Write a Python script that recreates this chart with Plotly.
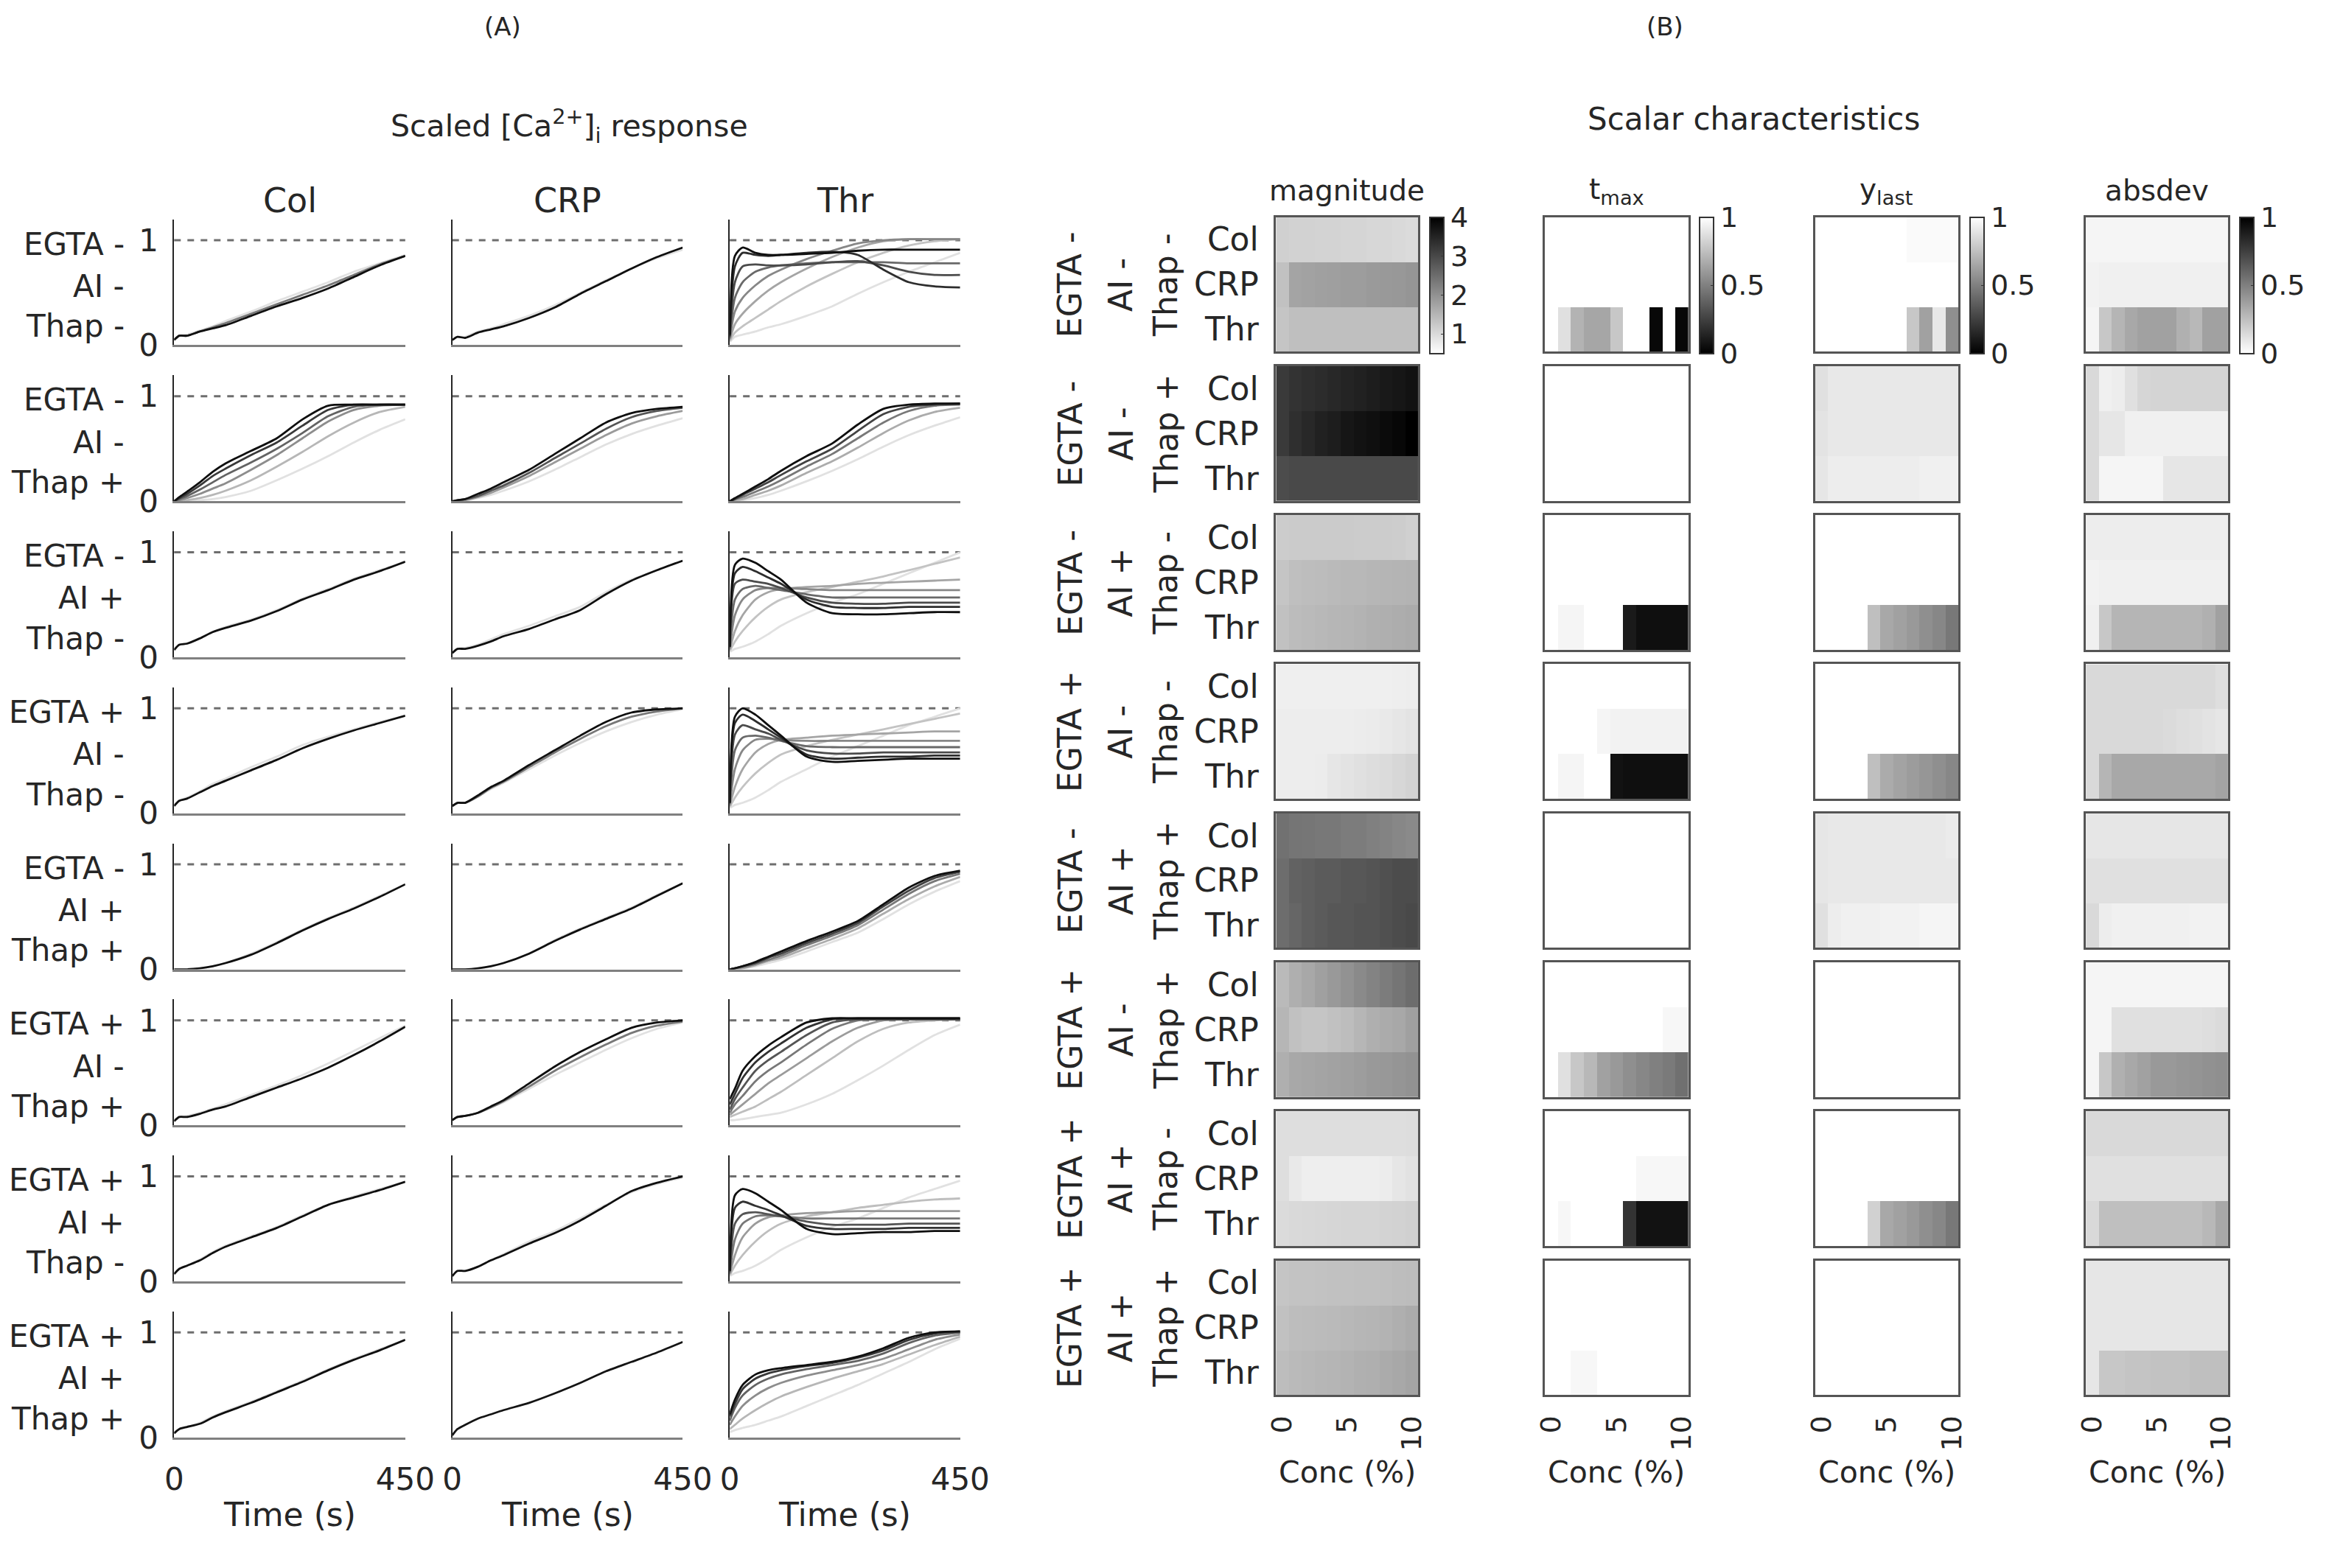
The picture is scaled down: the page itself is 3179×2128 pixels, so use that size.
import plotly.graph_objects as go

# page is 3179x2128; the html body keeps an 8px margin, so the figure is 16px smaller
W, H = 3179, 2128
PAD = 8
FW, FH = W - 2 * PAD, H - 2 * PAD
FONT = "DejaVu Sans"
INK = "#262626"

# time grid (s) of the scaled [Ca2+]i traces
T = [0, 10, 25, 50, 75, 100, 150, 200, 250, 300, 350, 400, 450]
agonists = ["Col", "CRP", "Thr"]
row_labels = [("EGTA -", "AI -", "Thap -"), ("EGTA -", "AI -", "Thap +"),
              ("EGTA -", "AI +", "Thap -"), ("EGTA +", "AI -", "Thap -"),
              ("EGTA -", "AI +", "Thap +"), ("EGTA +", "AI -", "Thap +"),
              ("EGTA +", "AI +", "Thap -"), ("EGTA +", "AI +", "Thap +")]
conc = [0, 1, 2, 3, 4, 5, 6, 7, 8, 9, 10]
metrics = ["magnitude", "t<sub>max</sub>", "y<sub>last</sub>", "absdev"]

# curves per panel, listed from lowest concentration (light) to highest (dark)
col_1 = [[0.05, 0.09, 0.10, 0.14, 0.18, 0.23, 0.32, 0.42, 0.51, 0.60, 0.70, 0.78, 0.86],
         [0.05, 0.09, 0.09, 0.13, 0.17, 0.21, 0.30, 0.39, 0.48, 0.57, 0.67, 0.77, 0.85],
         [0.05, 0.09, 0.09, 0.13, 0.16, 0.19, 0.28, 0.37, 0.45, 0.54, 0.65, 0.76, 0.85]]
crp_1 = [[0.05, 0.08, 0.08, 0.13, 0.16, 0.20, 0.28, 0.38, 0.50, 0.62, 0.73, 0.83, 0.91],
         [0.05, 0.08, 0.07, 0.12, 0.15, 0.18, 0.26, 0.36, 0.49, 0.61, 0.73, 0.84, 0.93]]
thr_1 = [[0.03, 0.08, 0.10, 0.13, 0.17, 0.20, 0.28, 0.37, 0.49, 0.60, 0.70, 0.79, 0.88],
         [0.04, 0.12, 0.18, 0.26, 0.34, 0.42, 0.56, 0.68, 0.79, 0.88, 0.95, 0.99, 1.01],
         [0.05, 0.20, 0.30, 0.42, 0.52, 0.60, 0.73, 0.84, 0.93, 0.99, 1.01, 1.01, 1.01],
         [0.06, 0.32, 0.45, 0.57, 0.66, 0.72, 0.82, 0.90, 0.97, 1.00, 1.01, 1.01, 1.01],
         [0.07, 0.45, 0.60, 0.70, 0.74, 0.76, 0.78, 0.79, 0.79, 0.79, 0.78, 0.78, 0.78],
         [0.08, 0.60, 0.75, 0.77, 0.76, 0.76, 0.77, 0.79, 0.80, 0.76, 0.70, 0.67, 0.67],
         [0.09, 0.75, 0.88, 0.86, 0.85, 0.86, 0.88, 0.89, 0.86, 0.72, 0.60, 0.56, 0.55],
         [0.10, 0.85, 0.93, 0.88, 0.86, 0.86, 0.87, 0.88, 0.90, 0.91, 0.91, 0.91, 0.91]]

col_2 = [[0.00, 0.00, 0.00, 0.01, 0.02, 0.04, 0.10, 0.20, 0.31, 0.43, 0.56, 0.68, 0.78],
         [0.00, 0.00, 0.01, 0.03, 0.06, 0.10, 0.20, 0.33, 0.47, 0.62, 0.75, 0.85, 0.90],
         [0.00, 0.01, 0.03, 0.07, 0.12, 0.17, 0.30, 0.44, 0.60, 0.76, 0.87, 0.91, 0.92],
         [0.00, 0.02, 0.05, 0.11, 0.18, 0.25, 0.37, 0.50, 0.65, 0.81, 0.90, 0.92, 0.92],
         [0.00, 0.03, 0.07, 0.15, 0.24, 0.31, 0.44, 0.56, 0.72, 0.87, 0.92, 0.92, 0.92],
         [0.00, 0.04, 0.09, 0.18, 0.28, 0.36, 0.48, 0.60, 0.78, 0.91, 0.92, 0.92, 0.92]]
crp_2 = [[0.00, 0.00, 0.01, 0.03, 0.06, 0.10, 0.19, 0.30, 0.42, 0.54, 0.64, 0.72, 0.79],
         [0.00, 0.00, 0.01, 0.04, 0.08, 0.13, 0.24, 0.37, 0.50, 0.63, 0.74, 0.81, 0.86],
         [0.00, 0.01, 0.02, 0.05, 0.10, 0.15, 0.27, 0.41, 0.55, 0.69, 0.80, 0.86, 0.89],
         [0.00, 0.01, 0.02, 0.07, 0.12, 0.18, 0.30, 0.45, 0.60, 0.75, 0.84, 0.88, 0.90]]
thr_2 = [[0.00, 0.00, 0.01, 0.03, 0.06, 0.10, 0.19, 0.29, 0.40, 0.52, 0.63, 0.72, 0.80],
         [0.00, 0.01, 0.02, 0.06, 0.10, 0.15, 0.27, 0.38, 0.51, 0.65, 0.77, 0.85, 0.89],
         [0.00, 0.02, 0.04, 0.09, 0.14, 0.20, 0.33, 0.45, 0.60, 0.75, 0.86, 0.91, 0.92],
         [0.00, 0.02, 0.06, 0.12, 0.18, 0.25, 0.38, 0.50, 0.67, 0.83, 0.90, 0.92, 0.93],
         [0.00, 0.03, 0.07, 0.14, 0.21, 0.29, 0.43, 0.55, 0.73, 0.88, 0.92, 0.93, 0.93]]

col_3 = [[0.07, 0.12, 0.13, 0.18, 0.24, 0.29, 0.36, 0.45, 0.56, 0.65, 0.75, 0.83, 0.91],
         [0.07, 0.12, 0.13, 0.18, 0.24, 0.28, 0.35, 0.44, 0.55, 0.64, 0.74, 0.82, 0.91]]
crp_3 = [[0.04, 0.08, 0.09, 0.12, 0.17, 0.22, 0.30, 0.39, 0.48, 0.62, 0.74, 0.83, 0.92],
         [0.04, 0.08, 0.08, 0.11, 0.15, 0.20, 0.27, 0.36, 0.45, 0.60, 0.73, 0.83, 0.92]]
thr_3 = [[0.05, 0.08, 0.10, 0.15, 0.22, 0.30, 0.42, 0.52, 0.60, 0.70, 0.80, 0.90, 1.00],
         [0.06, 0.15, 0.25, 0.38, 0.48, 0.55, 0.62, 0.67, 0.72, 0.77, 0.83, 0.89, 0.95],
         [0.07, 0.25, 0.40, 0.55, 0.62, 0.65, 0.67, 0.68, 0.70, 0.71, 0.72, 0.73, 0.74],
         [0.08, 0.40, 0.55, 0.64, 0.66, 0.66, 0.65, 0.64, 0.64, 0.64, 0.64, 0.64, 0.64],
         [0.09, 0.55, 0.65, 0.68, 0.66, 0.64, 0.60, 0.57, 0.57, 0.57, 0.57, 0.57, 0.57],
         [0.10, 0.70, 0.74, 0.72, 0.70, 0.66, 0.57, 0.52, 0.51, 0.51, 0.52, 0.52, 0.52],
         [0.10, 0.80, 0.86, 0.82, 0.76, 0.70, 0.55, 0.48, 0.47, 0.47, 0.48, 0.48, 0.48],
         [0.10, 0.88, 0.94, 0.90, 0.82, 0.74, 0.52, 0.42, 0.41, 0.41, 0.42, 0.43, 0.43]]

col_4 = [[0.07, 0.12, 0.15, 0.21, 0.28, 0.33, 0.44, 0.54, 0.65, 0.73, 0.80, 0.87, 0.93],
         [0.07, 0.12, 0.14, 0.20, 0.26, 0.31, 0.41, 0.51, 0.62, 0.71, 0.79, 0.86, 0.93]]
crp_4 = [[0.07, 0.10, 0.10, 0.16, 0.23, 0.29, 0.42, 0.55, 0.67, 0.78, 0.87, 0.94, 0.99],
         [0.07, 0.10, 0.10, 0.16, 0.24, 0.30, 0.44, 0.58, 0.71, 0.83, 0.92, 0.97, 1.00],
         [0.07, 0.10, 0.10, 0.17, 0.25, 0.31, 0.46, 0.60, 0.74, 0.87, 0.96, 0.99, 1.00]]
thr_4 = [[0.05, 0.08, 0.10, 0.15, 0.22, 0.30, 0.42, 0.54, 0.64, 0.74, 0.84, 0.92, 1.00],
         [0.06, 0.15, 0.25, 0.38, 0.48, 0.56, 0.64, 0.70, 0.75, 0.80, 0.85, 0.90, 0.95],
         [0.07, 0.25, 0.42, 0.58, 0.66, 0.70, 0.72, 0.74, 0.75, 0.76, 0.77, 0.78, 0.78],
         [0.08, 0.42, 0.60, 0.70, 0.71, 0.70, 0.69, 0.69, 0.69, 0.69, 0.69, 0.69, 0.69],
         [0.09, 0.60, 0.72, 0.74, 0.72, 0.69, 0.64, 0.63, 0.63, 0.63, 0.63, 0.63, 0.63],
         [0.10, 0.75, 0.84, 0.80, 0.76, 0.70, 0.60, 0.57, 0.57, 0.58, 0.58, 0.58, 0.58],
         [0.10, 0.86, 0.94, 0.88, 0.80, 0.72, 0.56, 0.52, 0.53, 0.54, 0.54, 0.55, 0.55],
         [0.10, 0.92, 1.00, 0.94, 0.84, 0.74, 0.54, 0.49, 0.50, 0.51, 0.52, 0.52, 0.52]]

col_5 = [[0.00, 0.00, 0.00, 0.01, 0.03, 0.06, 0.15, 0.26, 0.38, 0.49, 0.59, 0.70, 0.81],
         [0.00, 0.00, 0.00, 0.01, 0.03, 0.06, 0.14, 0.25, 0.37, 0.48, 0.58, 0.69, 0.81]]
crp_5 = [[0.00, 0.00, 0.00, 0.01, 0.03, 0.06, 0.15, 0.28, 0.39, 0.49, 0.59, 0.71, 0.82],
         [0.00, 0.00, 0.00, 0.01, 0.03, 0.06, 0.15, 0.27, 0.38, 0.48, 0.58, 0.70, 0.82]]
thr_5 = [[0.00, 0.00, 0.01, 0.03, 0.06, 0.09, 0.17, 0.26, 0.35, 0.48, 0.62, 0.74, 0.84],
         [0.00, 0.00, 0.01, 0.04, 0.08, 0.11, 0.20, 0.29, 0.39, 0.53, 0.67, 0.79, 0.88],
         [0.00, 0.01, 0.02, 0.05, 0.09, 0.13, 0.23, 0.32, 0.42, 0.57, 0.72, 0.84, 0.91],
         [0.00, 0.01, 0.03, 0.06, 0.11, 0.15, 0.25, 0.34, 0.44, 0.60, 0.75, 0.87, 0.93],
         [0.00, 0.01, 0.03, 0.07, 0.12, 0.17, 0.27, 0.36, 0.46, 0.62, 0.78, 0.89, 0.94]]

col_6 = [[0.04, 0.08, 0.09, 0.12, 0.16, 0.20, 0.29, 0.38, 0.48, 0.59, 0.71, 0.83, 0.95],
         [0.04, 0.08, 0.08, 0.11, 0.15, 0.18, 0.27, 0.36, 0.45, 0.55, 0.67, 0.80, 0.94]]
crp_6 = [[0.05, 0.08, 0.09, 0.12, 0.17, 0.22, 0.35, 0.48, 0.60, 0.72, 0.83, 0.92, 0.98],
         [0.05, 0.08, 0.09, 0.12, 0.17, 0.23, 0.37, 0.52, 0.65, 0.77, 0.88, 0.95, 0.99],
         [0.05, 0.08, 0.09, 0.12, 0.18, 0.24, 0.40, 0.56, 0.70, 0.82, 0.93, 0.98, 1.00]]
thr_6 = [[0.05, 0.05, 0.06, 0.08, 0.10, 0.12, 0.20, 0.30, 0.43, 0.57, 0.72, 0.86, 0.96],
         [0.08, 0.10, 0.13, 0.18, 0.25, 0.32, 0.48, 0.64, 0.80, 0.92, 0.98, 1.00, 1.01],
         [0.10, 0.14, 0.20, 0.30, 0.40, 0.48, 0.64, 0.80, 0.93, 1.00, 1.01, 1.01, 1.01],
         [0.12, 0.20, 0.28, 0.42, 0.52, 0.60, 0.77, 0.92, 1.00, 1.01, 1.01, 1.01, 1.01],
         [0.15, 0.25, 0.36, 0.52, 0.62, 0.70, 0.86, 0.98, 1.01, 1.01, 1.01, 1.01, 1.01],
         [0.20, 0.30, 0.45, 0.60, 0.70, 0.78, 0.93, 1.01, 1.02, 1.02, 1.02, 1.02, 1.02],
         [0.25, 0.35, 0.52, 0.66, 0.76, 0.84, 0.98, 1.02, 1.02, 1.02, 1.02, 1.02, 1.02]]

col_7 = [[0.07, 0.12, 0.15, 0.21, 0.28, 0.34, 0.43, 0.52, 0.63, 0.73, 0.81, 0.88, 0.95],
         [0.07, 0.12, 0.15, 0.20, 0.27, 0.33, 0.42, 0.51, 0.62, 0.73, 0.80, 0.87, 0.95]]
crp_7 = [[0.05, 0.10, 0.10, 0.14, 0.20, 0.26, 0.38, 0.48, 0.60, 0.73, 0.85, 0.93, 0.99],
         [0.05, 0.10, 0.10, 0.14, 0.20, 0.25, 0.36, 0.46, 0.58, 0.72, 0.86, 0.94, 1.00]]
thr_7 = [[0.05, 0.08, 0.10, 0.15, 0.22, 0.30, 0.42, 0.52, 0.60, 0.70, 0.80, 0.88, 0.96],
         [0.06, 0.15, 0.25, 0.38, 0.48, 0.55, 0.62, 0.66, 0.70, 0.73, 0.76, 0.78, 0.79],
         [0.07, 0.25, 0.42, 0.55, 0.61, 0.63, 0.65, 0.66, 0.67, 0.67, 0.67, 0.67, 0.67],
         [0.08, 0.40, 0.55, 0.62, 0.63, 0.62, 0.60, 0.60, 0.60, 0.60, 0.60, 0.60, 0.60],
         [0.09, 0.55, 0.64, 0.66, 0.64, 0.62, 0.57, 0.54, 0.54, 0.54, 0.55, 0.55, 0.55],
         [0.10, 0.70, 0.76, 0.72, 0.68, 0.63, 0.53, 0.50, 0.50, 0.50, 0.51, 0.51, 0.51],
         [0.10, 0.82, 0.88, 0.84, 0.76, 0.68, 0.50, 0.45, 0.46, 0.47, 0.47, 0.48, 0.48]]

col_8 = [[0.04, 0.08, 0.10, 0.14, 0.20, 0.25, 0.34, 0.44, 0.54, 0.65, 0.75, 0.84, 0.93],
         [0.04, 0.08, 0.10, 0.13, 0.19, 0.24, 0.33, 0.43, 0.53, 0.64, 0.74, 0.83, 0.93]]
crp_8 = [[0.02, 0.08, 0.12, 0.18, 0.22, 0.26, 0.33, 0.42, 0.52, 0.63, 0.72, 0.81, 0.91]]
thr_8 = [[0.05, 0.07, 0.09, 0.12, 0.16, 0.20, 0.30, 0.40, 0.50, 0.61, 0.72, 0.84, 0.94],
         [0.08, 0.12, 0.18, 0.26, 0.33, 0.39, 0.48, 0.56, 0.63, 0.70, 0.79, 0.88, 0.96],
         [0.12, 0.20, 0.30, 0.40, 0.47, 0.52, 0.59, 0.64, 0.69, 0.75, 0.84, 0.93, 0.98],
         [0.16, 0.28, 0.40, 0.50, 0.56, 0.60, 0.65, 0.69, 0.73, 0.80, 0.90, 0.97, 1.00],
         [0.20, 0.32, 0.46, 0.56, 0.61, 0.64, 0.68, 0.71, 0.76, 0.83, 0.93, 0.99, 1.01],
         [0.22, 0.36, 0.50, 0.60, 0.64, 0.66, 0.69, 0.72, 0.77, 0.85, 0.95, 1.00, 1.01]]

responses = [[col_1, crp_1, thr_1], [col_2, crp_2, thr_2], [col_3, crp_3, thr_3],
             [col_4, crp_4, thr_4], [col_5, crp_5, thr_5], [col_6, crp_6, thr_6],
             [col_7, crp_7, thr_7], [col_8, crp_8, thr_8]]

# scalar characteristics: rows Col, CRP, Thr; columns conc 0..10
mag1 = [[1.15, 1.12, 1.12, 1.10, 1.10, 1.08, 1.08, 1.05, 1.05, 1.02, 1.00],
        [1.35, 1.75, 1.78, 1.80, 1.82, 1.85, 1.85, 1.88, 1.90, 1.92, 1.95],
        [1.30, 1.38, 1.38, 1.38, 1.38, 1.38, 1.38, 1.38, 1.38, 1.38, 1.38]]
mag2 = [[3.20, 3.30, 3.35, 3.40, 3.45, 3.50, 3.55, 3.60, 3.65, 3.70, 3.75],
        [3.20, 3.35, 3.45, 3.55, 3.60, 3.70, 3.75, 3.80, 3.85, 3.90, 4.00],
        [2.95, 3.00, 3.00, 3.00, 3.00, 3.00, 3.00, 3.00, 3.00, 3.00, 3.00]]
mag3 = [[1.20, 1.22, 1.22, 1.22, 1.22, 1.22, 1.20, 1.20, 1.20, 1.18, 1.15],
        [1.30, 1.38, 1.40, 1.42, 1.45, 1.47, 1.48, 1.50, 1.52, 1.53, 1.55],
        [1.35, 1.42, 1.45, 1.48, 1.50, 1.52, 1.55, 1.58, 1.60, 1.62, 1.65]]
mag4 = [[0.72, 0.72, 0.72, 0.72, 0.72, 0.72, 0.72, 0.72, 0.72, 0.74, 0.75],
        [0.75, 0.75, 0.75, 0.75, 0.75, 0.75, 0.76, 0.78, 0.80, 0.85, 0.88],
        [0.75, 0.75, 0.75, 0.76, 0.85, 0.88, 0.92, 0.96, 1.00, 1.05, 1.10]]
mag5 = [[2.45, 2.40, 2.38, 2.35, 2.35, 2.30, 2.30, 2.25, 2.20, 2.15, 2.10],
        [2.50, 2.65, 2.70, 2.75, 2.75, 2.80, 2.80, 2.85, 2.90, 2.95, 2.95],
        [2.50, 2.60, 2.70, 2.75, 2.80, 2.80, 2.85, 2.85, 2.90, 2.95, 3.00]]
mag6 = [[1.45, 1.60, 1.70, 1.80, 1.90, 2.00, 2.10, 2.20, 2.30, 2.40, 2.50],
        [1.50, 1.35, 1.30, 1.30, 1.35, 1.40, 1.50, 1.60, 1.65, 1.70, 1.80],
        [1.60, 1.70, 1.72, 1.75, 1.78, 1.80, 1.85, 1.90, 1.92, 1.95, 2.00]]
mag7 = [[0.95, 0.95, 0.95, 0.95, 0.95, 0.95, 0.95, 0.95, 0.95, 0.95, 0.97],
        [0.95, 0.80, 0.74, 0.73, 0.73, 0.73, 0.73, 0.74, 0.76, 0.85, 0.90],
        [1.00, 1.02, 1.04, 1.05, 1.06, 1.07, 1.08, 1.08, 1.10, 1.12, 1.15]]
mag8 = [[1.30, 1.32, 1.33, 1.34, 1.35, 1.35, 1.36, 1.37, 1.38, 1.40, 1.42],
        [1.35, 1.40, 1.42, 1.44, 1.45, 1.47, 1.50, 1.52, 1.55, 1.60, 1.65],
        [1.40, 1.45, 1.48, 1.50, 1.52, 1.55, 1.58, 1.60, 1.65, 1.70, 1.75]]

tmax1 = [[1, 1, 1, 1, 1, 1, 1, 1, 1, 1, 1],
         [1, 1, 1, 1, 1, 1, 1, 1, 1, 1, 1],
         [1, 0.88, 0.70, 0.65, 0.65, 0.78, 1, 1, 0.03, 1, 0.03]]
tmax2 = [[1, 1, 1, 1, 1, 1, 1, 1, 1, 1, 1],
         [1, 1, 1, 1, 1, 1, 1, 1, 1, 1, 1],
         [1, 1, 1, 1, 1, 1, 1, 1, 1, 1, 1]]
tmax3 = [[1, 1, 1, 1, 1, 1, 1, 1, 1, 1, 1],
         [1, 1, 1, 1, 1, 1, 1, 1, 1, 1, 1],
         [1, 0.96, 0.96, 1, 1, 1, 0.10, 0.06, 0.06, 0.06, 0.06]]
tmax4 = [[1, 1, 1, 1, 1, 1, 1, 1, 1, 1, 1],
         [1, 1, 1, 1, 0.96, 0.95, 0.95, 0.95, 0.95, 0.95, 0.95],
         [1, 0.96, 0.96, 1, 1, 0.07, 0.06, 0.06, 0.06, 0.06, 0.06]]
tmax5 = [[1, 1, 1, 1, 1, 1, 1, 1, 1, 1, 1],
         [1, 1, 1, 1, 1, 1, 1, 1, 1, 1, 1],
         [1, 1, 1, 1, 1, 1, 1, 1, 1, 1, 1]]
tmax6 = [[1, 1, 1, 1, 1, 1, 1, 1, 1, 1, 1],
         [1, 1, 1, 1, 1, 1, 1, 1, 1, 0.97, 0.97],
         [1, 0.88, 0.78, 0.72, 0.63, 0.60, 0.56, 0.53, 0.50, 0.48, 0.44]]
tmax7 = [[1, 1, 1, 1, 1, 1, 1, 1, 1, 1, 1],
         [1, 1, 1, 1, 1, 1, 1, 0.97, 0.97, 0.97, 0.97],
         [1, 0.97, 1, 1, 1, 1, 0.20, 0.07, 0.07, 0.07, 0.07]]
tmax8 = [[1, 1, 1, 1, 1, 1, 1, 1, 1, 1, 1],
         [1, 1, 1, 1, 1, 1, 1, 1, 1, 1, 1],
         [1, 1, 0.97, 0.97, 1, 1, 1, 1, 1, 1, 1]]

ylast1 = [[1, 1, 1, 1, 1, 1, 1, 0.98, 0.98, 0.98, 0.98],
          [1, 1, 1, 1, 1, 1, 1, 1, 1, 1, 1],
          [1, 1, 1, 1, 1, 1, 1, 0.78, 0.63, 0.91, 0.56]]
ylast2 = [[0.88, 0.91, 0.91, 0.91, 0.91, 0.91, 0.91, 0.91, 0.91, 0.91, 0.91],
          [0.89, 0.91, 0.91, 0.91, 0.91, 0.91, 0.91, 0.91, 0.91, 0.91, 0.91],
          [0.90, 0.93, 0.93, 0.93, 0.93, 0.93, 0.93, 0.93, 0.94, 0.94, 0.94]]
ylast3 = [[1, 1, 1, 1, 1, 1, 1, 1, 1, 1, 1],
          [1, 1, 1, 1, 1, 1, 1, 1, 1, 1, 1],
          [1, 1, 1, 1, 0.75, 0.66, 0.63, 0.60, 0.56, 0.53, 0.47]]
ylast4 = [[1, 1, 1, 1, 1, 1, 1, 1, 1, 1, 1],
          [1, 1, 1, 1, 1, 1, 1, 1, 1, 1, 1],
          [1, 1, 1, 1, 0.75, 0.67, 0.64, 0.61, 0.59, 0.56, 0.53]]
ylast5 = [[0.90, 0.91, 0.91, 0.91, 0.91, 0.91, 0.91, 0.91, 0.91, 0.91, 0.92],
          [0.90, 0.91, 0.91, 0.91, 0.91, 0.91, 0.91, 0.91, 0.91, 0.91, 0.91],
          [0.88, 0.93, 0.94, 0.94, 0.94, 0.95, 0.95, 0.95, 0.96, 0.96, 0.96]]
ylast6 = [[1, 1, 1, 1, 1, 1, 1, 1, 1, 1, 1],
          [1, 1, 1, 1, 1, 1, 1, 1, 1, 1, 1],
          [1, 1, 1, 1, 1, 1, 1, 1, 1, 1, 1]]
ylast7 = [[1, 1, 1, 1, 1, 1, 1, 1, 1, 1, 1],
          [1, 1, 1, 1, 1, 1, 1, 1, 1, 1, 1],
          [1, 1, 1, 1, 0.82, 0.66, 0.63, 0.60, 0.56, 0.53, 0.47]]
ylast8 = [[1, 1, 1, 1, 1, 1, 1, 1, 1, 1, 1],
          [1, 1, 1, 1, 1, 1, 1, 1, 1, 1, 1],
          [1, 1, 1, 1, 1, 1, 1, 1, 1, 1, 1]]

absdev1 = [[0.04, 0.04, 0.04, 0.04, 0.04, 0.04, 0.04, 0.04, 0.04, 0.04, 0.04],
           [0.05, 0.06, 0.06, 0.06, 0.06, 0.06, 0.06, 0.06, 0.06, 0.06, 0.06],
           [0.04, 0.22, 0.29, 0.34, 0.37, 0.37, 0.37, 0.31, 0.28, 0.37, 0.37]]
absdev2 = [[0.15, 0.06, 0.07, 0.12, 0.16, 0.17, 0.17, 0.17, 0.17, 0.17, 0.17],
           [0.15, 0.10, 0.10, 0.06, 0.06, 0.06, 0.06, 0.06, 0.06, 0.06, 0.06],
           [0.15, 0.04, 0.04, 0.04, 0.04, 0.04, 0.10, 0.10, 0.10, 0.10, 0.10]]
absdev3 = [[0.07, 0.07, 0.07, 0.07, 0.07, 0.07, 0.07, 0.07, 0.07, 0.07, 0.07],
           [0.05, 0.06, 0.06, 0.06, 0.06, 0.06, 0.06, 0.06, 0.06, 0.06, 0.06],
           [0.06, 0.22, 0.29, 0.29, 0.29, 0.29, 0.29, 0.29, 0.29, 0.31, 0.37]]
absdev4 = [[0.15, 0.15, 0.15, 0.15, 0.15, 0.15, 0.15, 0.15, 0.15, 0.15, 0.13],
           [0.15, 0.15, 0.15, 0.15, 0.15, 0.15, 0.14, 0.13, 0.12, 0.11, 0.10],
           [0.15, 0.29, 0.34, 0.34, 0.34, 0.34, 0.34, 0.34, 0.34, 0.34, 0.36]]
absdev5 = [[0.10, 0.10, 0.10, 0.10, 0.10, 0.10, 0.10, 0.10, 0.10, 0.10, 0.10],
           [0.12, 0.12, 0.12, 0.12, 0.12, 0.12, 0.12, 0.12, 0.12, 0.12, 0.12],
           [0.15, 0.07, 0.06, 0.06, 0.06, 0.06, 0.06, 0.06, 0.05, 0.05, 0.05]]
absdev6 = [[0.04, 0.04, 0.04, 0.04, 0.04, 0.04, 0.04, 0.04, 0.04, 0.04, 0.04],
           [0.04, 0.04, 0.12, 0.12, 0.12, 0.12, 0.12, 0.12, 0.12, 0.13, 0.14],
           [0.04, 0.22, 0.31, 0.34, 0.37, 0.40, 0.40, 0.41, 0.42, 0.43, 0.44]]
absdev7 = [[0.15, 0.15, 0.15, 0.15, 0.15, 0.15, 0.15, 0.15, 0.15, 0.15, 0.15],
           [0.12, 0.12, 0.12, 0.12, 0.12, 0.12, 0.12, 0.12, 0.12, 0.12, 0.12],
           [0.15, 0.25, 0.25, 0.25, 0.25, 0.25, 0.25, 0.25, 0.25, 0.28, 0.34]]
absdev8 = [[0.10, 0.10, 0.10, 0.10, 0.10, 0.10, 0.10, 0.10, 0.10, 0.10, 0.10],
           [0.10, 0.10, 0.10, 0.10, 0.10, 0.10, 0.10, 0.10, 0.10, 0.10, 0.10],
           [0.10, 0.22, 0.22, 0.23, 0.23, 0.24, 0.24, 0.24, 0.25, 0.25, 0.25]]

scalars = [[mag1, tmax1, ylast1, absdev1], [mag2, tmax2, ylast2, absdev2],
           [mag3, tmax3, ylast3, absdev3], [mag4, tmax4, ylast4, absdev4],
           [mag5, tmax5, ylast5, absdev5], [mag6, tmax6, ylast6, absdev6],
           [mag7, tmax7, ylast7, absdev7], [mag8, tmax8, ylast8, absdev8]]

# ---- layout geometry (page pixels) ----
a_cols = [(226, 545), (610, 928), (993, 1311)]
a_top, a_pitch, a_h = 301, 214.3, 173
b_cols = [(1747, 1943), (2118, 2316), (2491, 2689), (2865, 3061)]
b_top, b_pitch, b_h = 298, 204.7, 185
cb_left = [1959, 2332, 2705, 3077]

white_black = [[0, "#ffffff"], [1, "#000000"]]
black_white = [[0, "#000000"], [1, "#ffffff"]]
metric_style = [(white_black, 0.5, 4, [1, 2, 3, 4]),
                (black_white, 0, 1, [0, 0.5, 1]),
                (black_white, 0, 1, [0, 0.5, 1]),
                (white_black, 0, 1, [0, 0.5, 1])]


def fx(p):
    return (p - PAD) / FW


def fy(p):
    return 1 - (p - PAD) / FH


fig = go.Figure()
layout = {}
shapes = []
annotations = []


def ann(text, x, y, size, **kw):
    d = dict(text=text, x=fx(x), y=fy(y), xref="paper", yref="paper",
             showarrow=False, font=dict(family=FONT, size=size, color=INK),
             xanchor="center", yanchor="middle")
    d.update(kw)
    annotations.append(d)


k = 0
# ---- panel A: traces ----
for r in range(8):
    top = a_top + a_pitch * r
    for c in range(3):
        k += 1
        xa, ya = ("x", "y") if k == 1 else (f"x{k}", f"y{k}")
        curves = responses[r][c]
        n = len(curves)
        for i, yv in enumerate(curves):
            g = 20 if n == 1 else int(225 - 210 * i / (n - 1))
            fig.add_trace(go.Scatter(x=T, y=yv, mode="lines", xaxis=xa, yaxis=ya,
                                     line=dict(color=f"rgb({g},{g},{g})", width=2.8,
                                               shape="spline", smoothing=0.7),
                                     showlegend=False, hoverinfo="skip"))
        last = r == 7
        layout["xaxis" if k == 1 else f"xaxis{k}"] = dict(
            domain=[fx(a_cols[c][0]), fx(a_cols[c][1])], anchor=ya,
            range=[0, 450], showgrid=False, zeroline=False, showline=True,
            linecolor="#808080", linewidth=3, ticks="",
            tickvals=[0, 450], showticklabels=last, ticklabelstandoff=18,
            tickfont=dict(family=FONT, size=42, color=INK))
        layout["yaxis" if k == 1 else f"yaxis{k}"] = dict(
            domain=[fy(top + a_h), fy(top)], anchor=xa, range=[0, 1.2],
            showgrid=False, zeroline=False, showline=True, linecolor=INK,
            linewidth=2, ticks="", tickvals=[0, 1], showticklabels=(c == 0),
            ticklabelstandoff=11, tickfont=dict(family=FONT, size=42, color=INK))
        shapes.append(dict(type="line", xref=f"{xa} domain", x0=0, x1=1,
                           yref=ya, y0=1, y1=1, layer="below",
                           line=dict(color="#6e6e6e", width=3, dash="dash")))
        if r == 0:
            ann(agonists[c], (a_cols[c][0] + a_cols[c][1]) / 2, 275, 46)
        if last:
            ann("Time (s)", (a_cols[c][0] + a_cols[c][1]) / 2, 2080, 44)
    for j, off in enumerate([34, 92, 147]):
        ann(row_labels[r][j], 160, top + off, 42, xanchor="right")

# ---- panel B: heatmaps ----
for r in range(8):
    top = b_top + b_pitch * r
    for m in range(4):
        k += 1
        xa, ya = f"x{k}", f"y{k}"
        cs, zmin, zmax, tv = metric_style[m]
        fig.add_trace(go.Heatmap(
            z=scalars[r][m], x=conc, y=agonists, xaxis=xa, yaxis=ya,
            colorscale=cs, zmin=zmin, zmax=zmax, showscale=(r == 0),
            hoverinfo="skip",
            colorbar=dict(x=fx(cb_left[m]), xanchor="left", y=fy(b_top), yanchor="top",
                          len=b_h, lenmode="pixels", thickness=19, thicknessmode="pixels",
                          xpad=0, ypad=0, outlinewidth=2, outlinecolor="#333333",
                          tickvals=tv, ticks="inside", ticklen=5, tickcolor="#333333",
                          tickfont=dict(family=FONT, size=38, color=INK))))
        last = r == 7
        layout[f"xaxis{k}"] = dict(
            domain=[fx(b_cols[m][0]), fx(b_cols[m][1])], anchor=ya,
            range=[-0.5, 10.5], showgrid=False, zeroline=False, showline=True,
            mirror=True, linecolor="#555555", linewidth=2.5, ticks="",
            tickvals=[0, 5, 10], tickangle=-90, showticklabels=last,
            ticklabelstandoff=10, tickfont=dict(family=FONT, size=38, color=INK))
        layout[f"yaxis{k}"] = dict(
            domain=[fy(top + b_h), fy(top)], anchor=xa, type="category",
            autorange="reversed", showgrid=False, zeroline=False, showline=True,
            mirror=True, linecolor="#555555", linewidth=2.5, ticks="",
            showticklabels=(m == 0), ticklabelstandoff=12,
            tickfont=dict(family=FONT, size=44, color=INK))
        cx = (b_cols[m][0] + b_cols[m][1]) / 2
        if r == 0:
            ann(metrics[m], cx, 262, 39)
        if last:
            ann("Conc (%)", cx, 2022, 41)
    for j, xl in enumerate([1463, 1533, 1595]):
        ann(row_labels[r][j], xl, top + b_h / 2, 44, textangle=-90)

# ---- titles ----
ann("(A)", 679, 36, 34)
ann("(B)", 2284, 36, 34)
ann("Scaled [Ca<sup>2+</sup>]<sub>i</sub> response", 772, 173, 41)
ann("Scalar characteristics", 2406, 163, 42)

fig.update_layout(**layout)
fig.update_layout(width=FW, height=FH, margin=dict(l=0, r=0, t=0, b=0),
                  paper_bgcolor="white", plot_bgcolor="white",
                  shapes=shapes, annotations=annotations, showlegend=False)

fig.write_html("out.html")
